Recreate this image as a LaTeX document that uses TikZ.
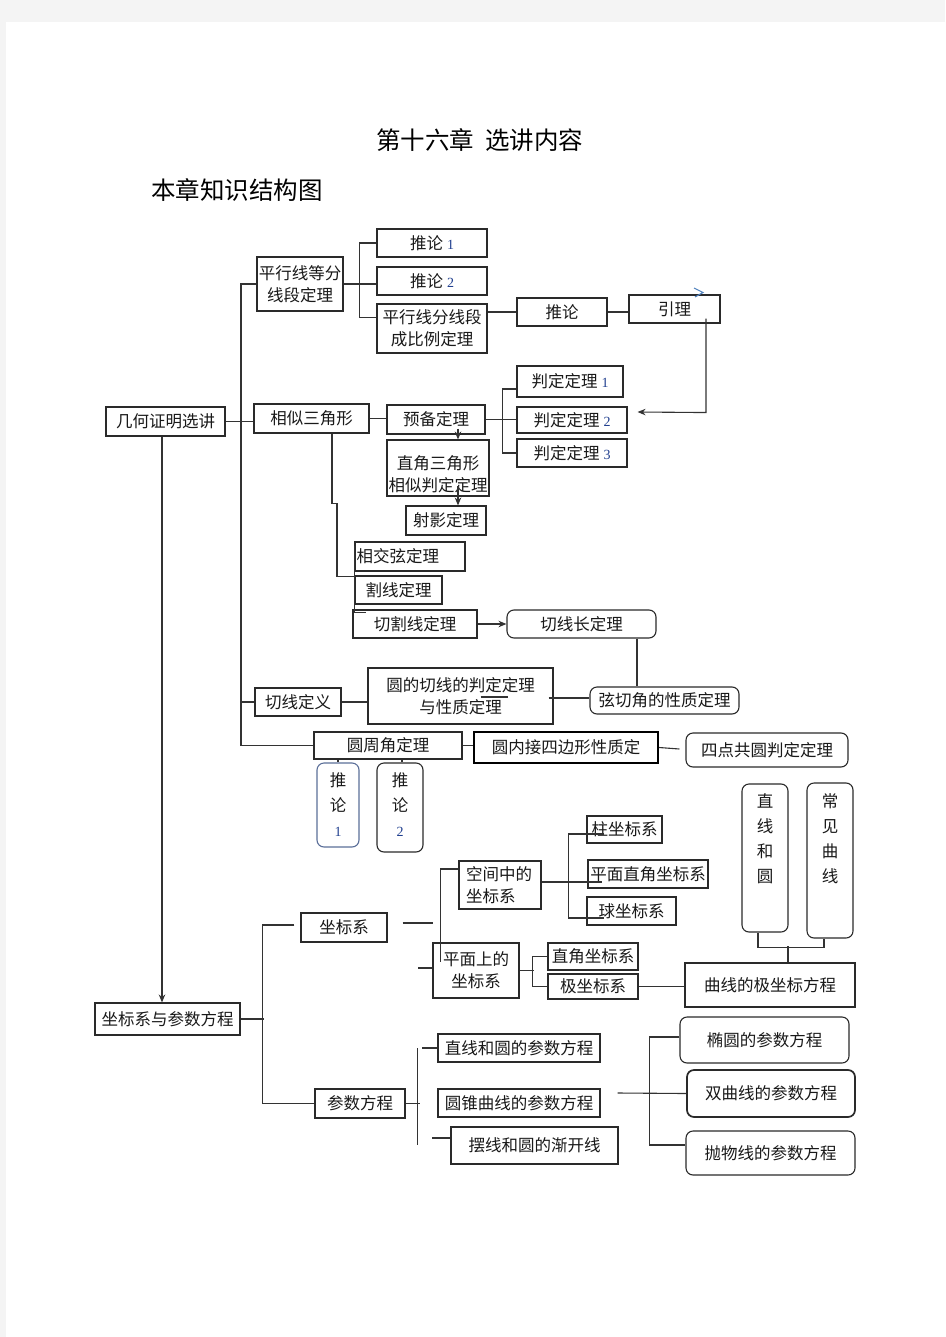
\documentclass[tikz,border=0pt]{standalone}
\usepackage{fontspec}
\newfontfamily\cjk{Noto Sans CJK SC}
\newfontfamily\numserif{Liberation Serif}
\usetikzlibrary{calc,arrows.meta}
\definecolor{linec}{HTML}{333333}
\definecolor{boxc}{HTML}{2A2A2A}
\definecolor{numc}{HTML}{203F8F}
\definecolor{bgc}{HTML}{F4F4F4}
\definecolor{chev}{HTML}{4F81BD}
\definecolor{vblue}{HTML}{5B6F99}
\newcommand{\nm}[1]{\hspace{4pt}{\numserif\fontsize{14}{14}\selectfont\color{numc}#1}}
\newcommand{\vnm}[1]{{\numserif\fontsize{14}{14}\selectfont\color{numc}#1}}
\begin{document}
\begin{tikzpicture}[x=1pt,y=-1pt,
  box/.style={draw=boxc, line width=1.1pt, inner sep=0pt, align=center, text=black!90,
    font=\cjk\fontsize{16.5}{22}\selectfont},
  rbox/.style={box, rounded corners=7pt},
  ln/.style={draw=linec, line width=1.1pt},
  thk/.style={ln, line width=1.6pt},
  arr/.style={ln, -{Stealth[length=8pt,width=6.5pt]}},
  vtext/.style={inner sep=0pt, align=center, anchor=north, text=black!90,
    font=\cjk\fontsize{16.5}{25}\selectfont},
  ttl/.style={inner sep=0pt, text=black, font=\cjk\fontsize{24.5}{28}\selectfont}]
\useasboundingbox (0,0) rectangle (945,1337);
\fill[bgc] (0,0) rectangle (945,1337);
\fill[white] (6,22) rectangle (945,1337);

% titles
\node[ttl] (title) at (480,140) {第十六章\hspace{0.45em}选讲内容};
\node[ttl, anchor=west] (sub) at (151,190) {本章知识结构图};

% nodes
\node[box, minimum width=119, minimum height=29] (g1) at (165.5,421.5) {几何证明选讲};
\node[box, minimum width=86, minimum height=54] (p1) at (300,284) {平行线等分\\线段定理};
\node[box, minimum width=115, minimum height=29] (s1) at (311.5,418.5) {相似三角形};
\node[box, minimum width=110, minimum height=28] (t1) at (432,243) {推论\nm{1}};
\node[box, minimum width=110, minimum height=28] (t2) at (432,281) {推论\nm{2}};
\node[box, minimum width=110, minimum height=49] (p2) at (432,328.5) {平行线分线段\\成比例定理};
\node[box, minimum width=90, minimum height=28] (tl) at (562,312) {推论};
\node[box, minimum width=91, minimum height=28] (yl) at (674.5,309) {引理};
\node[box, minimum width=106, minimum height=31] (pd1) at (570,381.5) {判定定理\nm{1}};
\node[box, minimum width=110, minimum height=26] (pd2) at (572,420) {判定定理\nm{2}};
\node[box, minimum width=110, minimum height=28] (pd3) at (572,453) {判定定理\nm{3}};
\node[box, minimum width=98, minimum height=29] (yb) at (436,419.5) {预备定理};
\node[box, minimum width=102, minimum height=56] (zj) at (438,468) {\rule{0pt}{26pt}直角三角形\\相似判定定理};
\node[box, minimum width=80, minimum height=29] (sy) at (446,520.5) {射影定理};
\node[box, minimum width=110, minimum height=29, text width=107, align=left] (xj) at (410,556.5) {相交弦定理};
\node[box, minimum width=87, minimum height=28] (gx) at (398.5,590) {割线定理};
\node[box, minimum width=124, minimum height=28] (qg) at (415,624) {切割线定理};
\node[rbox, minimum width=149, minimum height=28] (qc) at (581.5,624) {切线长定理};
\node[rbox, minimum width=149, minimum height=27] (xq) at (664.5,700.5) {弦切角的性质定理};
\node[box, minimum width=185, minimum height=56] (yq) at (460.5,696) {圆的切线的判定定理\\与性质定理};
\node[box, minimum width=86, minimum height=28] (qd) at (298,702) {切线定义};
\node[box, minimum width=148, minimum height=27] (yz) at (388,745.5) {圆周角定理};
\node[rbox, draw=vblue, minimum width=42, minimum height=84] (v1) at (338,805) {};
\node[vtext] (v1t) at ($(v1.north)+(0,10)$) {推\\论\\\vnm{1}};
\node[rbox, minimum width=46, minimum height=89] (v2) at (400,807.5) {};
\node[vtext] (v2t) at ($(v2.north)+(0,10)$) {推\\论\\\vnm{2}};
\node[box, draw=black, line width=2pt, minimum width=184, minimum height=31] (yn) at (566,747.5) {圆内接四边形性质定};
\node[rbox, minimum width=162, minimum height=34] (sd) at (767,750) {四点共圆判定定理};
\node[rbox, minimum width=46, minimum height=148] (zx) at (765,858) {};
\node[vtext] (zxt) at ($(zx.north)+(0,10)$) {直\\线\\和\\圆};
\node[rbox, minimum width=46, minimum height=155] (cj) at (830,860.5) {};
\node[vtext] (cjt) at ($(cj.north)+(0,11)$) {常\\见\\曲\\线};
\node[box, minimum width=170, minimum height=44] (qj) at (770,985) {曲线的极坐标方程};
\node[box, minimum width=82, minimum height=48, text width=68, align=left] (kj) at (500,885) {空间中的\\坐标系};
\node[box, minimum width=75, minimum height=27] (zz) at (624.5,829.5) {柱坐标系};
\node[box, minimum width=120, minimum height=28] (pm) at (648,874) {平面直角坐标系};
\node[box, minimum width=89, minimum height=28] (qz) at (631.5,911) {球坐标系};
\node[box, minimum width=86, minimum height=55] (ps) at (476,970.5) {平面上的\\坐标系};
\node[box, minimum width=90, minimum height=27] (zjz) at (593,956.5) {直角坐标系};
\node[box, minimum width=90, minimum height=25] (jz) at (593,986.5) {极坐标系};
\node[box, minimum width=86, minimum height=29] (zb) at (344,927.5) {坐标系};
\node[box, minimum width=145, minimum height=32] (zc) at (167.5,1019) {坐标系与参数方程};
\node[box, minimum width=90, minimum height=29] (cs) at (360,1103.5) {参数方程};
\node[box, minimum width=162, minimum height=28] (zy) at (519,1048) {直线和圆的参数方程};
\node[box, minimum width=162, minimum height=28] (yc) at (519,1103) {圆锥曲线的参数方程};
\node[box, line width=1.5pt, minimum width=167, minimum height=37] (bx) at (534.5,1145.5) {摆线和圆的渐开线};
\node[rbox, minimum width=169, minimum height=46] (ty) at (764.5,1040) {椭圆的参数方程};
\node[rbox, line width=1.7pt, minimum width=168, minimum height=47] (sq) at (771,1093.5) {双曲线的参数方程};
\node[rbox, minimum width=169, minimum height=44] (pw) at (770.5,1153) {抛物线的参数方程};

% connectors: geometry part
\coordinate (trx) at (241,0);
\draw[ln] (p1.west) -- (p1.west -| trx) -- (yz.west -| trx) -- (yz.west);
\draw[ln] (g1.east) -- (g1.east -| s1.west);
\draw[ln] (qd.west) -- (qd.west -| trx);
\draw[thk] (p1.east) -- (p1.east -| t2.west);
\draw[ln] (t1.west) -- ++(-17,0) |- ($(p2.west)+(0,-11)$);
\draw[ln] (p2.east |- tl.west) -- (tl.west);
\draw[ln] (tl.east) -- (tl.east -| yl.west);
\draw[arr] ($(yl.south)+(31.5,-5)$) -- ++(0,94) -- ($(pd2.east)+(10,-8)$);
\draw[chev, line width=1.1pt] (694,288) -- (703,292.5) -- (695,297);
\draw[ln] (s1.east) -- (s1.east -| yb.west);
\draw[ln] (yb.east) -- (yb.east -| pd2.west);
\draw[ln] ($(pd1.west)+(0,7.5)$) -- ++(-14,0) |- (pd3.west);
\draw[arr] ($(yb.south)+(22,-6)$) -- ($(zj.north)+(20,0)$);
\draw[arr] ($(zj.south)+(20,-11)$) -- ($(sy.north)+(12,0)$);
\draw[ln] ($(s1.south)+(20.5,0)$) -- ++(0,70) -- ++(5,0) |- ($(gx.north west)+(0,1)$);
\draw[ln] ($(xj.west)+(0,-11)$) -- ($(qg.north west)+(2,3)$) -- ++(12,0);
\draw[arr] (qg.east) -- (qc.west);
\draw[ln] ($(qc.south)+(55.5,0)$) -- ($(xq.north)+(-27.5,0)$);
\draw[ln] ($(yq.east)+(-5,2)$) -- ($(xq.west)+(0,-2.5)$);
\draw[ln] ($(yq.center)+(20,1)$) -- ++(27,0);
\draw[ln] (qd.east) -- (qd.east -| yq.west);
\draw[ln] (v1.north |- yz.south) -- (v1.north);
\draw[ln] ($(yz.south)+(14,0)$) -- ($(v2.north)+(2,0)$);
\draw[ln] (yz.east) -- (yz.east -| yn.west);
\draw[ln] (yn.east) -- ($(sd.west)+(-6,-1)$);

% connectors: coordinate part
\draw[ln] ($(zx.south)+(-7,0)$) -- ++(0,15) -| ($(cj.south)+(-6,0)$);
\draw[ln] ($(qj.north)+(18,0)$) -- ++(0,-16);
\draw[ln] ($(kj.east)+(0,-3)$) -- ($(pm.west)+(15,8)$);
\draw[thk] ($(zz.west)+(18,4.5)$) -- ++(-36,0);
\draw[ln] ($(zz.west)+(-18,4.5)$) -- ++(0,84);
\draw[thk] ($(zz.west)+(-18,88.5)$) -- ++(36,0);
\draw[ln] ($(kj.west)+(0,-16)$) -- ++(-18,0) -- ++(0,93);
\draw[ln] ($(zb.east)+(15,-4.5)$) -- ++(30,0);
\draw[ln] ($(ps.west)+(-14,-2.5)$) -- ($(ps.west)+(0,-2.5)$);
\draw[ln] (ps.east) -- ++(14,0);
\draw[thk] (zjz.west) -- ++(-15,0) |- (jz.west);
\draw[ln] (jz.east) -- (jz.east -| qj.west);
\draw[thk] (zc.east) -- ++(23,0);
\draw[ln] ($(zb.west)+(-6,-2.5)$) -- ++(-32,0) |- (cs.west);
\draw[arr] ($(g1.south)+(-3.5,0)$) -- ($(zc.north)+(-5.5,0)$);
\draw[ln] (cs.east) -- ++(14,0);
\draw[ln] ($(zy.west)+(-20,0)$) -- ++(0,97);
\draw[ln] ($(zy.west)+(-15,0)$) -- (zy.west);
\draw[ln] ($(bx.west)+(-18,-7.5)$) -- ($(bx.west)+(0,-7.5)$);
\draw[ln] ($(yc.east)+(17,-10)$) -- (sq.west);
\draw[ln] ($(ty.west)+(0,-3)$) -- ++(-30,0) -- ++(0,108) -- ($(pw.west)+(0,-8)$);
\end{tikzpicture}
\end{document}
